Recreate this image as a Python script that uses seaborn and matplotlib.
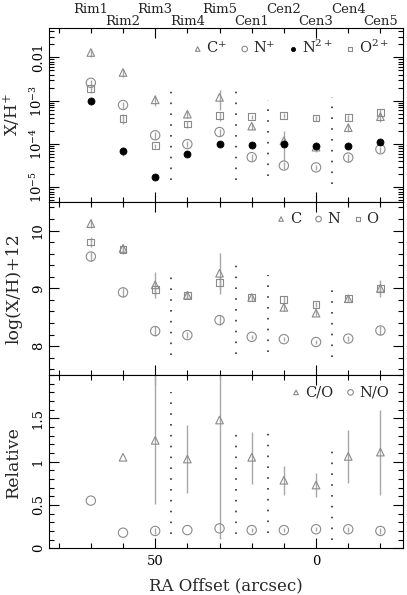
import numpy as np
import pandas as pd
import seaborn as sns
import matplotlib.pyplot as plt
from matplotlib.ticker import FixedLocator, MultipleLocator, LogLocator, FuncFormatter, NullFormatter
import matplotlib.transforms as mtransforms

# positions along the slit
ra_offset = [70, 60, 50, 40, 30, 20, 10, 0, -10, -20]
regions = ['Rim1', 'Rim2', 'Rim3', 'Rim4', 'Rim5', 'Cen1', 'Cen2', 'Cen3', 'Cen4', 'Cen5']

# ionic abundances X/H+
c_plus = [1.3e-2, 4.5e-3, 1.05e-3, 4.9e-4, 1.2e-3, 2.6e-4, 1.2e-4, 8.5e-5, 2.4e-4, 4.3e-4]
c_plus_err = [2.5e-3, 9e-4, 3e-4, 1e-4, 6e-4, 5e-5, 8e-5, 2e-5, 5e-5, 1e-4]
n_plus = [2.6e-3, 8e-4, 1.6e-4, 1.0e-4, 1.9e-4, 5e-5, 3.2e-5, 2.9e-5, 4.9e-5, 7.6e-5]
n_plus_err = [4e-4, 1.5e-4, 3e-5, 1.5e-5, 3.5e-5, 1e-5, 6e-6, 4e-6, 1e-5, 1.2e-5]
n2_plus = [1.0e-3, 6.9e-5, 1.7e-5, 6.0e-5, 1.0e-4, 9.5e-5, 1.0e-4, 9.1e-5, 9.1e-5, 1.1e-4]
n2_plus_err = [2e-4, 1.5e-5, 2e-6, 8e-6, 1e-5, 1e-5, 1.5e-5, 1e-5, 1e-5, 1.5e-5]
o2_plus = [1.9e-3, 3.9e-4, 9.1e-5, 2.9e-4, 4.5e-4, 4.3e-4, 4.6e-4, 4.0e-4, 4.1e-4, 5.4e-4]
o2_plus_err = [4e-4, 1e-4, 1e-5, 6e-5, 1e-4, 5e-5, 6e-5, 5e-5, 6e-5, 1e-4]

# total abundances log(X/H)+12
c_total = [10.12, 9.69, 9.06, 8.88, 9.26, 8.84, 8.67, 8.57, 8.82, 9.00]
c_total_err = [0.08, 0.07, 0.22, 0.07, 0.35, 0.05, 0.06, 0.05, 0.06, 0.15]
n_total = [9.55, 8.93, 8.26, 8.19, 8.45, 8.16, 8.12, 8.07, 8.13, 8.27]
n_total_err = [0.07, 0.08, 0.08, 0.05, 0.08, 0.04, 0.04, 0.03, 0.05, 0.07]
o_total = [9.80, 9.67, 8.98, 8.88, 9.10, 8.84, 8.80, 8.72, 8.82, 9.00]
o_total_err = [0.08, 0.07, 0.10, 0.07, 0.12, 0.05, 0.06, 0.05, 0.06, 0.08]

# abundance ratios
c_to_o = [np.nan, 1.05, 1.245, 1.03, 1.48, 1.05, 0.785, 0.73, 1.06, 1.11]
c_to_o_lo = [0, 0, 0.735, 0.39, 1.37, 0.31, 0.175, 0.14, 0.31, 0.50]
c_to_o_hi = [0, 0, 1.2, 0.39, 1.2, 0.29, 0.165, 0.14, 0.31, 0.49]
n_to_o = [0.55, 0.18, 0.20, 0.21, 0.23, 0.21, 0.21, 0.22, 0.22, 0.20]
n_to_o_err = [0.0, 0.0, 0.03, 0.0, 0.0, 0.02, 0.02, 0.02, 0.03, 0.03]

# dotted region dividers (x, ymin, ymax) per panel
divider_x = [45, 25, 15, -5]
divider_ion = [(1.5e-5, 2.3e-3), (1.5e-5, 2.5e-3), (1.8e-5, 1.05e-3), (1.2e-5, 1.2e-3)]
divider_total = [(7.85, 9.32), (7.86, 9.50), (7.90, 9.23), (7.81, 8.98)]
divider_ratio = [(0.17, 1.80), (0.17, 1.39), (0.18, 1.39), (0.10, 1.20)]

sns.set_theme(style='ticks')
plt.rcParams['font.family'] = ['DejaVu Serif']
plt.rcParams['mathtext.fontset'] = 'dejavuserif'

mark_grey = '#8a8a8a'
bar_grey = '#a8a8a8'


def draw_series(ax, y, err, marker, size, label, filled=False):
    df = pd.DataFrame({'x': ra_offset, 'y': y})
    if isinstance(err, tuple):
        df['lo'], df['hi'] = err
    else:
        df['lo'] = err
        df['hi'] = err
    df = df.dropna()
    ax.errorbar(df['x'], df['y'], yerr=[df['lo'], df['hi']], fmt='none',
                ecolor=bar_grey, elinewidth=1.0, capsize=0, zorder=2)
    if filled:
        sns.scatterplot(data=df, x='x', y='y', marker=marker, s=size, color='black',
                        edgecolor='black', linewidth=0.5, label=label, ax=ax, zorder=3)
    else:
        sns.scatterplot(data=df, x='x', y='y', marker=marker, s=size, facecolor='none',
                        edgecolor=mark_grey, linewidth=0.8, label=label, ax=ax, zorder=3)


def draw_dividers(ax, spans):
    for x, (y0, y1) in zip(divider_x, spans):
        ax.plot([x, x], [y0, y1], color='#333333', lw=1.2, ls=(0, (1, 5.5)), zorder=1)


fig = plt.figure(figsize=(4.07, 5.95), dpi=100)
axes = fig.subplots(3, 1, sharex=True, gridspec_kw={'hspace': 0})
fig.subplots_adjust(left=0.1204, right=0.990, bottom=0.0785, top=0.9524)
ax1, ax2, ax3 = axes

# top: ionic abundances
draw_series(ax1, c_plus, c_plus_err, '^', 30, r'C$^{+}$')
draw_series(ax1, n_plus, n_plus_err, 'o', 45, r'N$^{+}$')
draw_series(ax1, n2_plus, n2_plus_err, 'o', 26, r'N$^{2+}$', filled=True)
draw_series(ax1, o2_plus, o2_plus_err, 's', 24, r'O$^{2+}$')
draw_dividers(ax1, divider_ion)
ax1.set_yscale('log')
ax1.set_ylim(4.7e-6, 0.047)
ax1.yaxis.set_major_locator(FixedLocator([1e-5, 1e-4, 1e-3, 1e-2]))
ax1.yaxis.set_minor_locator(LogLocator(base=10, subs=np.arange(2, 10)))
ax1.yaxis.set_minor_formatter(NullFormatter())
ax1.yaxis.set_major_formatter(FuncFormatter(
    lambda v, p: '0.01' if abs(v - 0.01) < 1e-9 else r'$10^{%d}$' % round(np.log10(v))))
ax1.set_ylabel(r'X/H$^{+}$', fontsize=12)

# middle: total abundances
draw_series(ax2, c_total, c_total_err, '^', 30, 'C')
draw_series(ax2, n_total, n_total_err, 'o', 45, 'N')
draw_series(ax2, o_total, o_total_err, 's', 24, 'O')
draw_dividers(ax2, divider_total)
ax2.set_ylim(7.5, 10.5)
ax2.yaxis.set_major_locator(FixedLocator([8, 9, 10]))
ax2.yaxis.set_minor_locator(MultipleLocator(0.2))
ax2.set_ylabel('log(X/H)+12', fontsize=12.5)

# bottom: ratios
draw_series(ax3, c_to_o, (c_to_o_lo, c_to_o_hi), '^', 30, 'C/O')
draw_series(ax3, n_to_o, n_to_o_err, 'o', 45, 'N/O')
draw_dividers(ax3, divider_ratio)
ax3.set_ylim(0, 2)
ax3.yaxis.set_major_locator(FixedLocator([0, 0.5, 1, 1.5]))
ax3.yaxis.set_minor_locator(MultipleLocator(0.1))
ax3.yaxis.set_major_formatter(FuncFormatter(lambda v, p: '%g' % v))
ax3.set_ylabel('Relative', fontsize=12.5)

ax3.set_xlim(83, -27)
ax3.xaxis.set_major_locator(FixedLocator([50, 0]))
ax3.xaxis.set_minor_locator(MultipleLocator(10))
ax3.set_xlabel('RA Offset (arcsec)', fontsize=12)
ax3.xaxis.set_label_coords(0.5, -0.17)

for ax in axes:
    ax.tick_params(which='both', direction='in', top=True, right=True, colors='black',
                   labelsize=9.5, width=0.8)
    ax.tick_params(which='major', length=7)
    ax.tick_params(which='minor', length=3.5)
    ax.tick_params(axis='y', labelrotation=90, pad=3)
    ax.tick_params(axis='x', pad=5)
    for t in ax.get_yticklabels():
        t.set_va('center')
    ax.yaxis.set_label_coords(-0.075, 0.5)
    for s in ax.spines.values():
        s.set_linewidth(0.8)
        s.set_color('black')

# legends
leg_kw = dict(frameon=False, loc='upper right', handlelength=0.6, handletextpad=0.3,
              columnspacing=0.9, markerscale=0.6, fontsize=10.5, borderaxespad=0.3)
ax1.legend(ncol=4, bbox_to_anchor=(0.99, 1.0), **leg_kw)
ax2.legend(ncol=3, bbox_to_anchor=(0.96, 1.0), **leg_kw)
ax3.legend(ncol=2, bbox_to_anchor=(0.99, 1.0), **leg_kw)

# region names above the top panel
trans = mtransforms.blended_transform_factory(ax1.transData, ax1.transAxes)
for i, (x, name) in enumerate(zip(ra_offset, regions)):
    ax1.text(x, 1.0865 if i % 2 == 0 else 1.019, name, transform=trans,
             ha='center', va='baseline', fontsize=9.5)

fig.savefig('out.png', dpi=100)
